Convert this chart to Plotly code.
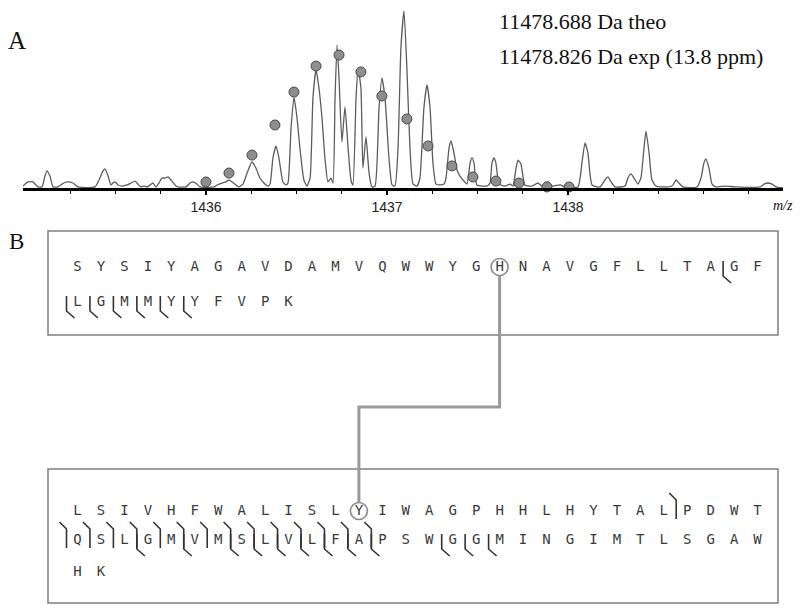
import plotly.graph_objects as go

W, H = 800, 613

# ---------------- spectrum data (m/z, relative intensity %) ----------------
mz = [1434.989, 1435.017, 1435.044, 1435.072, 1435.094, 1435.110, 1435.122, 1435.138, 1435.155, 1435.182,
      1435.204, 1435.232, 1435.265, 1435.293, 1435.387, 1435.409, 1435.431, 1435.442, 1435.459, 1435.475,
      1435.486, 1435.497, 1435.514, 1435.536, 1435.564, 1435.586, 1435.608, 1435.624, 1435.641, 1435.657,
      1435.674, 1435.691, 1435.707, 1435.724, 1435.740, 1435.757, 1435.773, 1435.790, 1435.812, 1435.834,
      1435.845, 1435.890, 1435.912, 1435.928, 1435.950, 1435.967, 1436.044, 1436.061, 1436.088, 1436.110,
      1436.127, 1436.144, 1436.166, 1436.182, 1436.204, 1436.227, 1436.254, 1436.276, 1436.298, 1436.320,
      1436.343, 1436.354, 1436.370, 1436.387, 1436.403, 1436.425, 1436.442, 1436.453, 1436.470, 1436.486,
      1436.503, 1436.519, 1436.541, 1436.558, 1436.575, 1436.591, 1436.608, 1436.624, 1436.641, 1436.657,
      1436.674, 1436.691, 1436.702, 1436.713, 1436.724, 1436.735, 1436.751, 1436.768, 1436.785, 1436.801,
      1436.812, 1436.829, 1436.840, 1436.856, 1436.867, 1436.884, 1436.901, 1436.917, 1436.934, 1436.956,
      1436.972, 1436.989, 1437.011, 1437.028, 1437.044, 1437.061, 1437.077, 1437.094, 1437.110, 1437.127,
      1437.144, 1437.166, 1437.182, 1437.204, 1437.221, 1437.238, 1437.254, 1437.271, 1437.293, 1437.315,
      1437.326, 1437.343, 1437.354, 1437.370, 1437.387, 1437.403, 1437.425, 1437.442, 1437.459, 1437.470,
      1437.481, 1437.497, 1437.552, 1437.569, 1437.580, 1437.591, 1437.602, 1437.619, 1437.652, 1437.680,
      1437.696, 1437.713, 1437.724, 1437.740, 1437.762, 1437.801, 1437.834, 1437.856, 1437.890, 1437.912,
      1437.956, 1437.983, 1438.055, 1438.077, 1438.094, 1438.110, 1438.133, 1438.177, 1438.204, 1438.221,
      1438.238, 1438.260, 1438.315, 1438.331, 1438.348, 1438.365, 1438.387, 1438.403, 1438.420, 1438.431,
      1438.448, 1438.464, 1438.486, 1438.519, 1438.575, 1438.597, 1438.613, 1438.635, 1438.713, 1438.735,
      1438.751, 1438.762, 1438.779, 1438.796, 1438.818, 1438.867, 1438.923, 1439.061, 1439.083, 1439.105,
      1439.127, 1439.149, 1439.188]
intensity = [1.1, 3.4, 3.4, 0.6, 0.6, 6.7, 9.6, 6.7, 0.6, 0.6,
             2.2, 3.4, 2.8, 0.6, 0.6, 4.5, 9.6, 10.7, 6.7, 1.7,
             2.8, 3.4, 1.7, 1.1, 1.7, 2.8, 3.9, 2.2, 0.6, 1.1,
             0.6, 1.7, 2.8, 0.6, 2.8, 5.6, 5.6, 6.2, 3.9, 1.1,
             0.6, 0.6, 2.8, 3.4, 2.2, 0.6, 0.6, 1.7, 2.8, 3.4,
             4.5, 3.4, 1.7, 0.6, 2.2, 8.4, 14.6, 11.2, 5.6, 2.8,
             1.1, 2.2, 16.9, 23.6, 16.9, 3.4, 1.7, 2.8, 33.7, 51.1,
             39.3, 22.5, 4.5, 1.1, 5.6, 50.6, 66.3, 56.2, 39.3, 16.9,
             3.4, 5.6, 2.8, 50.6, 80.3, 61.8, 25.8, 45.5, 22.5, 4.5,
             1.7, 50.6, 67.4, 56.2, 11.2, 28.7, 8.4, 0.6, 1.1, 44.9,
             61.8, 50.6, 16.9, 1.7, 1.1, 22.5, 78.7, 99.4, 67.4, 22.5,
             2.2, 1.1, 5.6, 44.9, 57.9, 44.9, 14.0, 2.2, 1.7, 2.2,
             5.6, 22.5, 26.4, 19.7, 10.1, 6.7, 3.9, 2.2, 14.0, 16.9,
             14.0, 1.7, 1.1, 2.8, 14.0, 16.9, 14.0, 2.2, 1.1, 2.2,
             1.1, 11.2, 15.7, 13.5, 1.7, 1.1, 2.8, 1.1, 3.4, 1.1,
             1.7, 0.6, 0.6, 14.0, 25.3, 19.7, 1.7, 0.6, 4.5, 6.2,
             3.4, 0.6, 1.1, 5.6, 7.9, 5.6, 2.2, 5.6, 22.5, 32.0,
             19.7, 4.5, 1.1, 0.6, 1.1, 4.5, 2.8, 0.6, 0.6, 5.6,
             14.0, 16.3, 11.2, 2.2, 0.6, 1.1, 0.6, 0.6, 2.2, 2.8,
             2.2, 0.6, 0.0]

# theoretical isotope distribution (grey dots)
iso_mz = [1436.000, 1436.127, 1436.254, 1436.381, 1436.486, 1436.608, 1436.735, 1436.856, 1436.972,
          1437.110, 1437.227, 1437.359, 1437.475, 1437.602, 1437.729, 1437.884, 1438.006]
iso_int = [3.4, 8.4, 18.5, 35.4, 53.9, 68.5, 74.7, 65.2, 51.7,
           38.8, 23.6, 12.4, 6.2, 3.9, 2.8, 0.6, 0.6]

major_ticks = [1436, 1437, 1438]
major_labels = ["1436", "1437", "1438"]
minor_ticks = [1435.25, 1435.5, 1435.75, 1436.25, 1436.5, 1436.75, 1437.25, 1437.5, 1437.75,
               1438.25, 1438.5, 1438.75, 1439.0]

theo_label = "11478.688 Da theo"
exp_label = "11478.826 Da exp (13.8 ppm)"
xaxis_title = "m/z"

# ---------------- sequence data ----------------
seq1_rows = ["SYSIYAGAVDAMVQWWYGHNAVGFLLTAGF", "LGMMYYFVPK"]
seq2_rows = ["LSIVHFWALISLYIWAGPHHLHYTALPDWT", "QSLGMVMSLVLFAPSWGGMINGIMTLSGAW", "HK"]

# fragment cleavage sites (row, index of residue following the cleavage)
seq1_c = []
seq1_z = [(0, 28), (1, 0), (1, 1), (1, 2), (1, 3), (1, 4), (1, 5)]
seq2_c = [(0, 26), (1, 0), (1, 1), (1, 2), (1, 3), (1, 4), (1, 5), (1, 6), (1, 7), (1, 8),
          (1, 9), (1, 10), (1, 11), (1, 12), (1, 13)]
seq2_z = [(1, 3), (1, 5), (1, 7), (1, 8), (1, 9), (1, 10), (1, 11), (1, 12), (1, 13),
          (1, 16), (1, 17), (1, 18)]

# crosslinked residues
xl1 = (0, 18)
xl2 = (0, 12)

# ---------------- layout geometry (pixels) ----------------
X0, DX = 77.5, 23.45
box1 = (48, 231, 778, 335)
box2 = (48, 469, 778, 603)
rows1_y = [267, 302]
rows2_y = [511, 540, 572]
elbow_y = 407
circ_r = 8.5

def lx(i):
    return X0 + i * DX

fig = go.Figure()

fig.add_trace(go.Scatter(
    x=mz, y=intensity, mode="lines",
    line=dict(color="#5c5c5c", width=1.3, shape="spline", smoothing=0.5),
    xaxis="x", yaxis="y", hoverinfo="skip", showlegend=False))
fig.add_trace(go.Scatter(
    x=iso_mz, y=iso_int, mode="markers", cliponaxis=False,
    marker=dict(size=10, color="#8e8e8e", line=dict(color="#4a4a4a", width=1)),
    xaxis="x", yaxis="y", hoverinfo="skip", showlegend=False))

# sequence letters
xs, ys, ts = [], [], []
for rows, rys in ((seq1_rows, rows1_y), (seq2_rows, rows2_y)):
    for r, s in enumerate(rows):
        for i, ch in enumerate(s):
            xs.append(lx(i)); ys.append(rys[r]); ts.append(ch)
fig.add_trace(go.Scatter(
    x=xs, y=ys, text=ts, mode="text", cliponaxis=False,
    textfont=dict(family="DejaVu Sans Mono", size=14, color="#3a3a3a"),
    xaxis="x2", yaxis="y2", hoverinfo="skip", showlegend=False))

shapes = []
grey_box = dict(color="#7f7f7f", width=1.5)
for b in (box1, box2):
    shapes.append(dict(type="rect", xref="x2", yref="y2", x0=b[0], y0=b[1], x1=b[2], y1=b[3],
                       line=grey_box, layer="below"))

mark_line = dict(color="#333333", width=1.6)
def z_mark(i, y):
    bx = lx(i) - 11
    return f"M {bx},{y-6} L {bx},{y+9} L {bx+8},{y+16}"
def c_mark(i, y):
    bx = lx(i) - 11
    return f"M {bx-7},{y-18} L {bx},{y-11} L {bx},{y+8}"

for sites, rys, fn in ((seq1_c, rows1_y, c_mark), (seq1_z, rows1_y, z_mark),
                       (seq2_c, rows2_y, c_mark), (seq2_z, rows2_y, z_mark)):
    for r, i in sites:
        shapes.append(dict(type="path", xref="x2", yref="y2", path=fn(i, rys[r]), line=mark_line))

# crosslink circles and connector
hx, hy = lx(xl1[1]), rows1_y[xl1[0]]
yx, yy = lx(xl2[1]), rows2_y[xl2[0]]
circ_line = dict(color="#8a8a8a", width=1.6)
for cx, cy in ((hx, hy), (yx, yy)):
    shapes.append(dict(type="circle", xref="x2", yref="y2", x0=cx - circ_r, x1=cx + circ_r,
                       y0=cy - circ_r, y1=cy + circ_r, line=circ_line))
shapes.append(dict(type="path", xref="x2", yref="y2",
                   path=f"M {hx},{hy+circ_r} L {hx},{elbow_y} L {yx},{elbow_y} L {yx},{yy-circ_r}",
                   line=dict(color="#999999", width=3)))

annotations = [
    dict(text="A", x=17, y=40, xref="x2", yref="y2", showarrow=False,
         font=dict(family="Liberation Serif", size=25, color="#111")),
    dict(text="B", x=16, y=241, xref="x2", yref="y2", showarrow=False,
         font=dict(family="Liberation Serif", size=23, color="#111")),
    dict(text=theo_label, x=497, y=21, xref="x2", yref="y2", xanchor="left", showarrow=False,
         font=dict(family="Liberation Serif", size=22, color="#111")),
    dict(text=exp_label, x=497, y=56, xref="x2", yref="y2", xanchor="left", showarrow=False,
         font=dict(family="Liberation Serif", size=22, color="#111")),
    dict(text="<i>" + xaxis_title + "</i>", x=783, y=205, xref="x2", yref="y2", showarrow=False,
         font=dict(family="Liberation Serif", size=14, color="#111")),
]

fig.update_layout(
    width=W, height=H, margin=dict(l=0, r=0, t=0, b=0),
    paper_bgcolor="white", plot_bgcolor="rgba(0,0,0,0)",
    showlegend=False,
    xaxis=dict(domain=[23 / W, 783 / W], range=[1434.989, 1439.188], anchor="y",
               tickvals=major_ticks, ticktext=major_labels,
               ticks="outside", ticklen=4, tickwidth=1.5, tickcolor="black",
               showline=True, linewidth=3, linecolor="black",
               showgrid=False, zeroline=False, fixedrange=True,
               tickfont=dict(family="Liberation Sans", size=14, color="#222"),
               minor=dict(tickvals=minor_ticks, ticks="outside", ticklen=3, tickwidth=1.2,
                          tickcolor="black", showgrid=False)),
    yaxis=dict(domain=[1 - 188 / H, 1 - 10 / H], range=[0, 100], anchor="x",
               visible=False, fixedrange=True),
    xaxis2=dict(domain=[0, 1], range=[0, W], anchor="y2", visible=False, fixedrange=True),
    yaxis2=dict(domain=[0, 1], range=[H, 0], anchor="x2", visible=False, fixedrange=True),
    shapes=shapes, annotations=annotations,
)

fig.write_html("out.html", config={"displayModeBar": False},
               post_script="document.body.style.margin='0px';")
